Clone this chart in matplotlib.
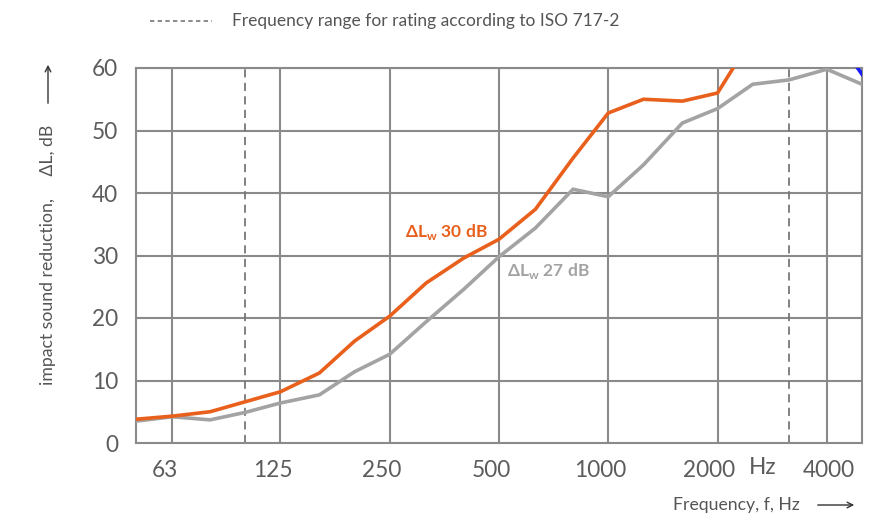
import numpy as np
import matplotlib
matplotlib.use('Agg')
import matplotlib.pyplot as plt
from matplotlib.transforms import ScaledTranslation

plt.rcParams['font.family'] = ['Lato', 'DejaVu Sans']
plt.rcParams['mathtext.fontset'] = 'custom'
plt.rcParams['mathtext.rm'] = 'Lato'
plt.rcParams['mathtext.bf'] = 'Lato:bold'

# third-octave bands, Hz
freq = [50, 63, 80, 100, 125, 160, 200, 250, 315, 400, 500, 630, 800,
        1000, 1250, 1600, 2000, 2500, 3150, 4000, 5000]
# dL_w 30 dB product (leaves the chart above 60 dB)
orange_vals = [3.8, 4.3, 5.0, 6.6, 8.2, 11.2, 16.3, 20.3, 25.6, 29.6, 32.6,
               37.4, 45.6, 52.8, 55.0, 54.7, 56.0, 65.0, 70.0, 72.0, 70.0]
# dL_w 27 dB product
gray_vals = [3.5, 4.2, 3.7, 4.9, 6.4, 7.7, 11.4, 14.2, 19.4, 24.6, 29.8,
             34.4, 40.6, 39.4, 44.5, 51.2, 53.5, 57.4, 58.1, 59.8, 57.4]
# third curve, only its tail shows in the top right corner
blue_freq = [4000, 5000]
blue_vals = [67.0, 59.0]

xticks = [63, 125, 250, 500, 1000, 2000, 4000]
major_lines = [63, 125, 250, 500, 1000, 2000, 4000]
rating_range = [100, 3150]
yticks = [0, 10, 20, 30, 40, 50, 60]

ORANGE = '#e8601c'
GRAY = '#a3a3a3'
GRID = '#8a8a8a'
TXT = '#555555'
TICK = '#5c5c5c'

fig = plt.figure(figsize=(8.9, 5.16), dpi=100)
ax = fig.add_axes([136/890, 1-443/516, (862-136)/890, (443-68)/516])
ax.set_xscale('log')
ax.set_xlim(50, 5000)
ax.set_ylim(0, 60)

for y in yticks[1:]:
    ax.axhline(y, color=GRID, lw=1.5, zorder=1)
for f in major_lines:
    ax.axvline(f, color=GRID, lw=1.5, zorder=1)
for f in rating_range:
    ax.axvline(f, color='#777777', lw=1.3, ls=(0, (4.5, 3)), zorder=1)

ax.plot(freq, gray_vals, color=GRAY, lw=2.6, zorder=3, solid_joinstyle='miter')
ax.plot(freq, orange_vals, color=ORANGE, lw=2.6, zorder=4, solid_joinstyle='miter')
ax.plot(blue_freq, blue_vals, color='#1a1aff', lw=2.6, zorder=4)

for s in ax.spines.values():
    s.set_color(GRID)
    s.set_linewidth(1.5)

ax.set_xticks(xticks)
ax.set_xticklabels([str(t) for t in xticks])
ax.xaxis.set_minor_locator(matplotlib.ticker.NullLocator())
ax.set_yticks(yticks)
ax.tick_params(length=0, labelsize=16.3, colors=TICK)
ax.tick_params(axis='y', pad=13)
ax.tick_params(axis='x', pad=12)
# the labels sit a little left of their grid lines, except the last one
for lab in ax.get_xticklabels()[:-1]:
    lab.set_transform(lab.get_transform() + ScaledTranslation(-8/100, 0, fig.dpi_scale_trans))
lab = ax.get_xticklabels()[-1]
lab.set_transform(lab.get_transform() + ScaledTranslation(2/100, 0, fig.dpi_scale_trans))
fig.text(763/890, 1-467/516, 'Hz', fontsize=16.3, color=TICK, ha='center',
         va='center')

ax.text(405/890, 1-232/516, r'ΔL$_{\mathbf{w}}$ 30 dB', transform=fig.transFigure,
        color=ORANGE, fontsize=12.5, fontweight='bold', va='center')
ax.text(507/890, 1-271/516, r'ΔL$_{\mathbf{w}}$ 27 dB', transform=fig.transFigure,
        color=GRAY, fontsize=12.5, fontweight='bold', va='center')

# legend line at the top
fig.add_artist(matplotlib.lines.Line2D([150/890, 212/890], [1-21/516, 1-21/516],
               color='#777777', lw=1.2, ls=(0, (2.6, 2.0))))
fig.text(232/890, 1-21/516, 'Frequency range for rating according to ISO 717-2',
         fontsize=12.5, color=TXT, va='center')

# axis titles with long arrows
fig.text(48/890, 1-255/516, 'impact sound reduction,     ΔL, dB', rotation=90,
         fontsize=12.7, color=TXT, ha='center', va='center')
fig.add_artist(matplotlib.patches.FancyArrowPatch(
    (48/890, 1-106/516), (48/890, 1-62/516), transform=fig.transFigure,
    arrowstyle='->', mutation_scale=10, color='#333333', lw=1.0))
fig.text(800/890, 1-505/516, 'Frequency, f, Hz', fontsize=12.7, color=TXT,
         ha='right', va='center')
fig.add_artist(matplotlib.patches.FancyArrowPatch(
    (815/890, 1-505/516), (857/890, 1-505/516), transform=fig.transFigure,
    arrowstyle='->', mutation_scale=10, color='#333333', lw=1.0))

fig.savefig('out.png', dpi=100)
